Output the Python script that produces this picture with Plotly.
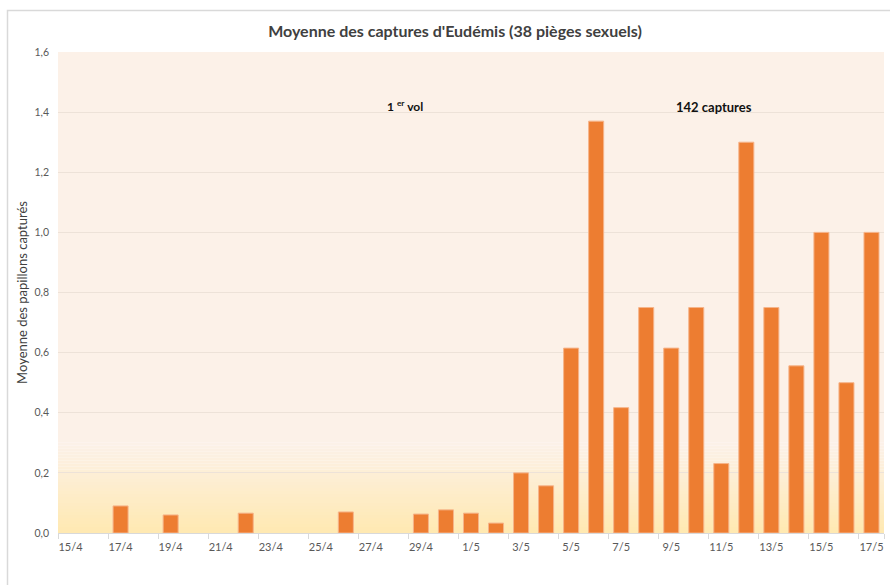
import plotly.graph_objects as go

dates = ["15/4", "16/4", "17/4", "18/4", "19/4", "20/4", "21/4", "22/4", "23/4", "24/4",
         "25/4", "26/4", "27/4", "28/4", "29/4", "30/4", "1/5", "2/5", "3/5", "4/5",
         "5/5", "6/5", "7/5", "8/5", "9/5", "10/5", "11/5", "12/5", "13/5", "14/5",
         "15/5", "16/5", "17/5"]
moyenne = [0, 0, 0.09, 0, 0.06, 0, 0, 0.066, 0, 0,
           0, 0.07, 0, 0, 0.063, 0.077, 0.066, 0.033, 0.2, 0.157,
           0.615, 1.37, 0.417, 0.75, 0.615, 0.75, 0.231, 1.30, 0.75, 0.556,
           1.0, 0.5, 1.0]
tick_labels = dates[::2]

W, H = 890, 585
L, R, T, B = 58, 6, 52, 52
pw, ph = W - L - R, H - T - B

def px_x(x):
    return (x - L) / pw

def px_y(y):
    return (H - B - y) / ph

fig = go.Figure()
fig.add_trace(go.Bar(
    x=dates, y=moyenne,
    marker=dict(color="#ED7D31",
                line=dict(color="#F6B48A", width=[1 if v > 0 else 0 for v in moyenne])),
    width=0.6,
    hoverinfo="x+y",
))

shapes = []
# gradient background bands (bottom yellow -> peach)
top_col = (252, 241, 232)
bot_col = (255, 233, 178)
n = 30
ymax_grad = 0.3
for i in range(n):
    t = i / (n - 1)
    c = tuple(round(bot_col[k] + (top_col[k] - bot_col[k]) * t) for k in range(3))
    shapes.append(dict(type="rect", xref="paper", yref="y", x0=0, x1=1,
                       y0=ymax_grad * i / n, y1=ymax_grad * (i + 1) / n,
                       fillcolor="rgb(%d,%d,%d)" % c, line=dict(width=0), layer="below"))
shapes.append(dict(type="rect", xref="paper", yref="y", x0=0, x1=1, y0=ymax_grad, y1=1.6,
                   fillcolor="rgb(%d,%d,%d)" % top_col, line=dict(width=0), layer="below"))
# outer chart border
shapes.append(dict(type="rect", xref="paper", yref="paper",
                   x0=px_x(7.5), x1=px_x(895), y0=px_y(592), y1=px_y(10.5),
                   line=dict(color="#D9D9D9", width=1.5), fillcolor="rgba(0,0,0,0)"))

fig.update_layout(
    width=W, height=H,
    margin=dict(l=L, r=R, t=T, b=B, autoexpand=False),
    paper_bgcolor="white",
    plot_bgcolor="rgba(0,0,0,0)",
    separators=", ",
    showlegend=False,
    bargap=0.4,
    shapes=shapes,
    title=dict(text="Moyenne des captures d'Eudémis (38 pièges sexuels)",
               x=455 / W, xanchor="center", y=1 - 31 / H, yanchor="middle",
               font=dict(family="Lato", size=16, color="#404040", weight="bold")),
    font=dict(family="Lato", color="#595959"),
    xaxis=dict(type="category", tickmode="array", tickvals=tick_labels, ticktext=tick_labels,
               tickson="boundaries", ticks="outside", ticklen=5, tickcolor="#D9D9D9",
               tickangle=0, automargin=False, ticklabelstandoff=4,
               showgrid=False, showline=True, linecolor="#D9D9D9", linewidth=1,
               tickfont=dict(size=11, color="#595959"),
               range=[-0.5, len(dates) - 0.5]),
    yaxis=dict(range=[0, 1.6], dtick=0.2, tickformat=".1f", automargin=False,
               showgrid=True, gridcolor="#EDE2D8", gridwidth=1,
               zeroline=False, showline=False,
               tickfont=dict(size=10.5, color="#595959"),
               ticklabelstandoff=8,
               title=dict(text="Moyenne des papillons capturés", standoff=3,
                          font=dict(size=13, color="#404040"))),
    annotations=[
        dict(text="<b>1 <sup>er</sup> vol</b>", xref="paper", yref="paper",
             x=px_x(405), y=px_y(106), xanchor="center", yanchor="middle", showarrow=False,
             font=dict(family="Lato", size=12, color="#111111")),
        dict(text="<b>142 captures</b>", xref="paper", yref="paper",
             x=px_x(714), y=px_y(107), xanchor="center", yanchor="middle", showarrow=False,
             font=dict(family="Lato", size=13, color="#111111")),
    ],
)

fig.write_html("out.html", config={"displayModeBar": False},
               post_script="document.body.style.margin='0';")
